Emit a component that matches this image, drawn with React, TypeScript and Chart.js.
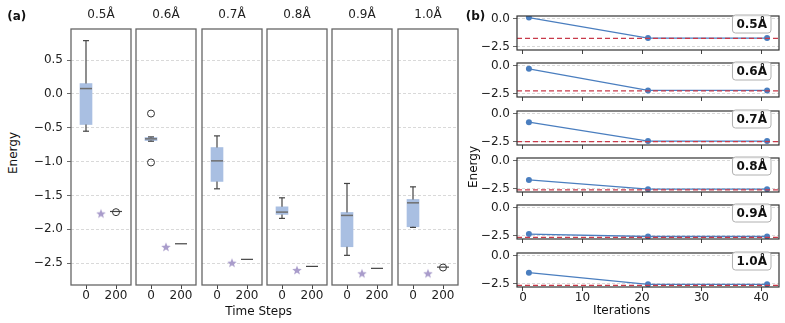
import React, { useEffect, useRef } from 'react';
import { Chart, registerables } from 'chart.js';
Chart.register(...registerables);

const FONT = "'DejaVu Sans', sans-serif";
Chart.defaults.font.family = FONT;
Chart.defaults.font.size = 12;
Chart.defaults.color = '#222';

// ---------------- Panel (a) data ----------------
const BOND_LENGTHS = ['0.5Å', '0.6Å', '0.7Å', '0.8Å', '0.9Å', '1.0Å'];
const TIME_TICKS = [0, 200];
const INIT_TIME = 0;
const STAR_TIME = 100;
const FINAL_TIME = 200;
const ENERGY_TICKS_A = [0.5, 0.0, -0.5, -1.0, -1.5, -2.0, -2.5];

const INIT_WHISKER_LOW = [-0.552, -0.700, -1.403, -1.840, -2.386, -1.973];
const INIT_Q1 = [-0.453, -0.690, -1.294, -1.781, -2.259, -1.964];
const INIT_MEDIAN = [0.078, -0.665, -0.990, -1.747, -1.796, -1.610];
const INIT_Q3 = [0.152, -0.645, -0.793, -1.669, -1.752, -1.560];
const INIT_WHISKER_HIGH = [0.786, -0.636, -0.621, -1.536, -1.324, -1.374];
const INIT_OUTLIERS = [[], [-0.291, -1.014], [], [], [], []];
const STAR_ENERGY = [-1.767, -2.260, -2.495, -2.603, -2.652, -2.652];
const FINAL_ENERGY = [-1.738, -2.215, -2.445, -2.549, -2.578, -2.560];
const FINAL_OUTLIERS = [[-1.748], [], [], [], [], [-2.566]];

// ---------------- Panel (b) data ----------------
const ITERATIONS = [1, 21, 41];
const ITER_TICKS = [0, 10, 20, 30, 40];
const ENERGY_TICKS_B = [0.0, -2.5];
const VQE_05 = [0.10, -1.738, -1.738];
const VQE_06 = [-0.28, -2.215, -2.215];
const VQE_07 = [-0.76, -2.445, -2.445];
const VQE_08 = [-1.72, -2.549, -2.549];
const VQE_09 = [-2.36, -2.578, -2.578];
const VQE_10 = [-1.52, -2.560, -2.560];
const VQE_SERIES = [VQE_05, VQE_06, VQE_07, VQE_08, VQE_09, VQE_10];
const EXACT_ENERGY = [-1.767, -2.260, -2.495, -2.603, -2.652, -2.652];

// ---------------- layout ----------------
const W = 785;
const H = 323;
const A_LEFT = [71, 136, 202, 267, 332, 398];
const A_WIDTH = 60;
const A_TOP = 29;
const A_BOTTOM = 285;
const B_LEFT = 517;
const B_RIGHT = 779;
const B_TOPS = [16, 63, 111, 158, 205, 253];
const B_HEIGHT = 34;
const Y_AXIS_W = 45;
const X_AXIS_H = 20;

const BOX_COLOR = '#a9bfe2';
const STAR_COLOR = '#a99ccb';
const LINE_BLUE = '#4a7ebf';
const REF_RED = '#c83a4a';

const minus = (s: string) => s.replace('-', '\u2212');

function makeStarImage(outer: number, inner: number, color: string): HTMLCanvasElement {
  const size = 12;
  const c = document.createElement('canvas');
  c.width = size;
  c.height = size;
  const ctx = c.getContext('2d')!;
  ctx.fillStyle = color;
  ctx.beginPath();
  for (let k = 0; k < 10; k++) {
    const r = k % 2 === 0 ? outer : inner;
    const a = -Math.PI / 2 + (k * Math.PI) / 5;
    const px = size / 2 + r * Math.cos(a);
    const py = size / 2 + 0.5 + r * Math.sin(a);
    if (k === 0) ctx.moveTo(px, py);
    else ctx.lineTo(px, py);
  }
  ctx.closePath();
  ctx.fill();
  return c;
}

const framePlugin = {
  id: 'frame',
  afterDraw(chart: any, _a: any, opts: any) {
    const { left, top, right, bottom } = chart.chartArea;
    const ctx = chart.ctx;
    ctx.save();
    ctx.strokeStyle = opts.color;
    ctx.lineWidth = opts.width;
    ctx.strokeRect(left, top, right - left, bottom - top);
    ctx.restore();
  },
};

const subTitlePlugin = {
  id: 'subTitle',
  afterDraw(chart: any, _a: any, opts: any) {
    if (!opts.text) return;
    const { left, right } = chart.chartArea;
    const ctx = chart.ctx;
    ctx.save();
    ctx.font = `12px ${FONT}`;
    ctx.fillStyle = '#222';
    ctx.textAlign = 'center';
    ctx.textBaseline = 'middle';
    ctx.fillText(opts.text, (left + right) / 2, opts.y);
    ctx.restore();
  },
};

const tagPlugin = {
  id: 'tag',
  afterDraw(chart: any, _a: any, opts: any) {
    if (!opts.text) return;
    const { right, top } = chart.chartArea;
    const ctx = chart.ctx;
    ctx.save();
    ctx.font = `bold 12px ${FONT}`;
    const tw = ctx.measureText(opts.text).width;
    const w = tw + 8;
    const h = 18;
    const x = right - 8 - w;
    const y = top - 1;
    const r = 3;
    ctx.beginPath();
    ctx.moveTo(x + r, y);
    ctx.lineTo(x + w - r, y);
    ctx.arcTo(x + w, y, x + w, y + r, r);
    ctx.lineTo(x + w, y + h - r);
    ctx.arcTo(x + w, y + h, x + w - r, y + h, r);
    ctx.lineTo(x + r, y + h);
    ctx.arcTo(x, y + h, x, y + h - r, r);
    ctx.lineTo(x, y + r);
    ctx.arcTo(x, y, x + r, y, r);
    ctx.closePath();
    ctx.fillStyle = 'rgba(255,255,255,0.9)';
    ctx.fill();
    ctx.strokeStyle = '#b0b0b0';
    ctx.lineWidth = 1;
    ctx.stroke();
    ctx.fillStyle = '#111';
    ctx.textAlign = 'center';
    ctx.textBaseline = 'middle';
    ctx.fillText(opts.text, x + w / 2, y + h / 2 + 0.5);
    ctx.restore();
  },
};

const seg = (pts: { x: number; y: number }[], color: string, width: number, order: number) => ({
  type: 'scatter',
  showLine: true,
  data: pts,
  borderColor: color,
  borderWidth: width,
  pointRadius: 0,
  order,
});

function boxConfig(i: number, starImg: HTMLCanvasElement, canvasH: number): any {
  const showY = i === 0;
  const outliers = [
    ...INIT_OUTLIERS[i].map((y) => ({ x: INIT_TIME, y })),
    ...FINAL_OUTLIERS[i].map((y) => ({ x: FINAL_TIME, y })),
  ];
  const half = 40;
  const cap = 20;
  return {
    type: 'scatter',
    data: {
      datasets: [
        {
          type: 'scatter',
          data: outliers,
          pointStyle: 'circle',
          pointRadius: 3.5,
          pointBackgroundColor: 'rgba(0,0,0,0)',
          pointBorderColor: '#333',
          pointBorderWidth: 1,
          order: 0,
        },
        {
          type: 'scatter',
          data: [{ x: STAR_TIME, y: STAR_ENERGY[i] }],
          pointStyle: starImg,
          order: 0,
        },
        seg([{ x: INIT_TIME - half, y: INIT_MEDIAN[i] }, { x: INIT_TIME + half, y: INIT_MEDIAN[i] }], '#6f6f6f', 1.5, 1),
        seg([{ x: FINAL_TIME - half, y: FINAL_ENERGY[i] }, { x: FINAL_TIME + half, y: FINAL_ENERGY[i] }], '#444', 1.2, 1),
        seg([{ x: INIT_TIME, y: INIT_WHISKER_LOW[i] }, { x: INIT_TIME, y: INIT_Q1[i] }], '#444', 1.2, 2),
        seg([{ x: INIT_TIME, y: INIT_Q3[i] }, { x: INIT_TIME, y: INIT_WHISKER_HIGH[i] }], '#444', 1.2, 2),
        seg([{ x: INIT_TIME - cap, y: INIT_WHISKER_LOW[i] }, { x: INIT_TIME + cap, y: INIT_WHISKER_LOW[i] }], '#444', 1.2, 2),
        seg([{ x: INIT_TIME - cap, y: INIT_WHISKER_HIGH[i] }, { x: INIT_TIME + cap, y: INIT_WHISKER_HIGH[i] }], '#444', 1.2, 2),
        {
          type: 'bar',
          data: [{ x: INIT_TIME, y: [INIT_Q1[i], INIT_Q3[i]] }],
          backgroundColor: BOX_COLOR,
          borderWidth: 0,
          barThickness: 12,
          order: 5,
        },
      ],
    },
    options: {
      responsive: false,
      animation: false,
      events: [],
      devicePixelRatio: 1,
      layout: {
        autoPadding: false,
        padding: { left: 0, right: 5, top: A_TOP, bottom: canvasH - A_BOTTOM - X_AXIS_H },
      },
      plugins: {
        legend: { display: false },
        tooltip: { enabled: false },
        title: { display: false },
        frame: { color: '#666', width: 1.3 },
        subTitle: { text: BOND_LENGTHS[i], y: 15 },
      },
      scales: {
        x: {
          type: 'linear',
          min: -100,
          max: 300,
          offset: false,
          afterBuildTicks: (s: any) => {
            s.ticks = TIME_TICKS.map((v) => ({ value: v }));
          },
          afterFit: (s: any) => {
            s.height = X_AXIS_H;
          },
          grid: { drawOnChartArea: false, drawTicks: true, tickLength: 4, tickColor: '#444', offset: false },
          border: { display: false },
          ticks: { padding: 0, color: '#222', maxRotation: 0, autoSkip: false, callback: (v: any) => String(v) },
        },
        y: {
          type: 'linear',
          min: -2.824,
          max: 0.958,
          afterBuildTicks: (s: any) => {
            s.ticks = ENERGY_TICKS_A.map((v) => ({ value: v }));
          },
          afterFit: (s: any) => {
            s.width = Y_AXIS_W;
          },
          grid: { color: '#cfcfcf', lineWidth: 0.8, drawTicks: showY, tickLength: 4, tickColor: '#444' },
          border: { display: false, dash: [3, 2] },
          ticks: {
            display: showY,
            padding: 4,
            color: '#222',
            autoSkip: false,
            callback: (v: any) => minus(Number(v).toFixed(1)),
          },
        },
      },
    },
    plugins: [framePlugin, subTitlePlugin],
  };
}

function lineConfig(i: number, canvasH: number): any {
  const last = i === VQE_SERIES.length - 1;
  const top = B_TOPS[i];
  return {
    type: 'line',
    data: {
      datasets: [
        {
          type: 'line',
          data: [
            { x: -1, y: EXACT_ENERGY[i] },
            { x: 43, y: EXACT_ENERGY[i] },
          ],
          borderColor: REF_RED,
          borderWidth: 1.3,
          borderDash: [5, 3],
          pointRadius: 0,
          order: 1,
        },
        {
          type: 'line',
          data: ITERATIONS.map((x, k) => ({ x, y: VQE_SERIES[i][k] })),
          borderColor: LINE_BLUE,
          borderWidth: 1.3,
          pointRadius: 3,
          pointBackgroundColor: LINE_BLUE,
          pointBorderWidth: 0,
          order: 2,
        },
      ],
    },
    options: {
      responsive: false,
      animation: false,
      events: [],
      devicePixelRatio: 1,
      layout: {
        autoPadding: false,
        padding: { left: 0, right: W - B_RIGHT, top, bottom: canvasH - (top + B_HEIGHT) - X_AXIS_H },
      },
      plugins: {
        legend: { display: false },
        tooltip: { enabled: false },
        title: { display: false },
        frame: { color: '#333', width: 1.2 },
        tag: { text: BOND_LENGTHS[i] },
      },
      scales: {
        x: {
          type: 'linear',
          min: -1,
          max: 43,
          offset: false,
          afterBuildTicks: (s: any) => {
            s.ticks = ITER_TICKS.map((v) => ({ value: v }));
          },
          afterFit: (s: any) => {
            s.height = X_AXIS_H;
          },
          grid: { drawOnChartArea: false, drawTicks: true, tickLength: 4, tickColor: '#444' },
          border: { display: false },
          ticks: { display: last, padding: 0, color: '#222', maxRotation: 0, autoSkip: false, callback: (v: any) => String(v) },
        },
        y: {
          type: 'linear',
          min: -2.8,
          max: 0.24,
          afterBuildTicks: (s: any) => {
            s.ticks = ENERGY_TICKS_B.map((v) => ({ value: v }));
          },
          afterFit: (s: any) => {
            s.width = Y_AXIS_W;
          },
          grid: { color: '#cfcfcf', lineWidth: 0.8, drawTicks: true, tickLength: 4, tickColor: '#444' },
          border: { display: false, dash: [3, 2] },
          ticks: { padding: 3, color: '#222', autoSkip: false, callback: (v: any) => minus(Number(v).toFixed(1)) },
        },
      },
    },
    plugins: [framePlugin, tagPlugin],
  };
}

function ChartCanvas(props: { left: number; width: number; height: number; build: () => any }) {
  const ref = useRef<HTMLCanvasElement>(null);
  useEffect(() => {
    const chart = new Chart(ref.current as HTMLCanvasElement, props.build());
    return () => chart.destroy();
  }, []);
  return (
    <canvas
      ref={ref}
      width={props.width}
      height={props.height}
      style={{ position: 'absolute', left: props.left, top: 0, width: props.width, height: props.height }}
    />
  );
}

function Label(props: { x: number; y: number; text: string; bold?: boolean; rotate?: boolean }) {
  return (
    <div
      style={{
        position: 'absolute',
        left: props.x,
        top: props.y,
        transform: `translate(-50%, -50%)${props.rotate ? ' rotate(-90deg)' : ''}`,
        whiteSpace: 'nowrap',
        fontFamily: FONT,
        fontSize: 12,
        lineHeight: '14px',
        fontWeight: props.bold ? 'bold' : 'normal',
        color: '#111',
      }}
    >
      {props.text}
    </div>
  );
}

export default function App() {
  const starImg = makeStarImage(5, 2.1, STAR_COLOR);
  return (
    <div style={{ position: 'fixed', left: 0, top: 0, width: W, height: H, background: '#fff', overflow: 'hidden' }}>
      {BOND_LENGTHS.map((_, i) => (
        <ChartCanvas
          key={'a' + i}
          left={A_LEFT[i] - Y_AXIS_W}
          width={Y_AXIS_W + A_WIDTH + 5}
          height={H}
          build={() => boxConfig(i, starImg, H)}
        />
      ))}
      {BOND_LENGTHS.map((_, i) => (
        <ChartCanvas
          key={'b' + i}
          left={B_LEFT - Y_AXIS_W}
          width={W - (B_LEFT - Y_AXIS_W)}
          height={H}
          build={() => lineConfig(i, H)}
        />
      ))}
      <Label x={16.7} y={15.7} text="(a)" bold />
      <Label x={475.5} y={15.7} text="(b)" bold />
      <Label x={13.3} y={153} text="Energy" rotate />
      <Label x={473.3} y={167} text="Energy" rotate />
      <Label x={258.7} y={310.7} text="Time Steps" />
      <Label x={621.7} y={310} text="Iterations" />
    </div>
  );
}
